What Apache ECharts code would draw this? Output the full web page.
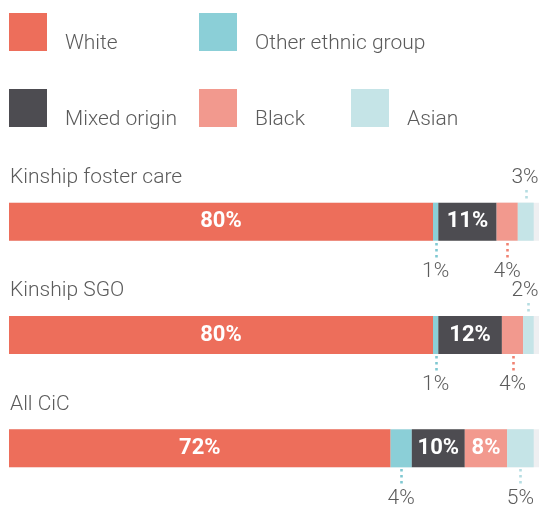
<!DOCTYPE html>
<html>
<head>
<meta charset="utf-8">
<script src="https://cdn.jsdelivr.net/npm/echarts@6/dist/echarts.min.js"></script>
<style>
html,body{margin:0;padding:0;background:#fff;}
#chart{width:541px;height:506px;}
</style>
</head>
<body>
<div id="chart"></div>
<script>
// ---- data ----
const categories = ['Kinship foster care', 'Kinship SGO', 'All CiC'];
const seriesNames = ['White', 'Other ethnic group', 'Mixed origin', 'Black', 'Asian'];
const white = [80, 80, 72];
const otherEthnic = [1, 1, 4];
const mixedOrigin = [11, 12, 10];
const black = [4, 4, 8];
const asian = [3, 2, 5];

// ---- style ----
const values = [white, otherEthnic, mixedOrigin, black, asian];
const colors = ['#ED6E5B', '#8BCFD7', '#4D4C51', '#F2998E', '#C5E4E7'];
const dotColors = ['#ED6E5B', '#7FC8D1', '#4D4C51', '#F08272', '#B5DDE2'];
const trackColor = '#EEEFF1';
const textColor = '#5B5B5B';
const FONT = 'Roboto, "Noto Sans", sans-serif';
const INSIDE_MIN = 8;      // segments at least this big carry their label inside
const BAR_W = 38;

const legendPos = [
  {left: 9, top: 8}, {left: 199, top: 8},
  {left: 9, top: 84}, {left: 199, top: 84}, {left: 351, top: 84}
];

const chart = echarts.init(document.getElementById('chart'), null, {renderer: 'canvas'});

const barSeries = seriesNames.map((name, s) => ({
  name: name,
  type: 'bar',
  stack: 'total',
  barWidth: BAR_W,
  data: values[s],
  itemStyle: {color: colors[s]},
  showBackground: s === 0,
  backgroundStyle: {color: trackColor},
  silent: true,
  label: {
    show: true,
    position: 'inside',
    color: '#fff',
    fontFamily: FONT,
    fontWeight: 'bold',
    fontSize: 22,
    formatter: p => (p.value >= INSIDE_MIN ? p.value + '%' : '')
  }
}));

const annotation = {
  type: 'custom',
  coordinateSystem: 'cartesian2d',
  clip: false,
  silent: true,
  z: 10,
  encode: {x: 0, y: 1},
  data: categories.map((c, i) => [0, i]),
  renderItem: function (params, api) {
    const i = api.value(1);
    const left = api.coord([0, i]);
    const right = api.coord([100, i]);
    const cy = left[1];
    const top = cy - BAR_W / 2;
    const bottom = cy + BAR_W / 2;
    const children = [];
    children.push({
      type: 'text',
      style: {
        text: categories[i], x: left[0] + 1, y: top - 25,
        fill: textColor, fontFamily: FONT, fontSize: 21, fontWeight: 300,
        align: 'left', verticalAlign: 'middle'
      }
    });
    let cum = 0;
    let lastBelow = -Infinity;
    for (let s = 0; s < values.length; s++) {
      const v = values[s][i];
      const x0 = api.coord([cum, i])[0];
      const x1 = api.coord([cum + v, i])[0];
      cum += v;
      if (v >= INSIDE_MIN) continue;
      const cx = (x0 + x1) / 2;
      const above = (cx - lastBelow) < 30;
      if (!above) lastBelow = cx;
      const lx = Math.round(cx) + 0.5;
      const tx = Math.min(cx, right[0] - 14);
      children.push({
        type: 'line',
        shape: above ? {x1: lx, y1: Math.round(top) - 13, x2: lx, y2: Math.round(top) - 1}
                     : {x1: lx, y1: Math.round(bottom) + 2, x2: lx, y2: Math.round(bottom) + 17},
        style: {stroke: dotColors[s], lineWidth: 2.6, lineDash: [2.6, 3.4]}
      });
      children.push({
        type: 'text',
        style: {
          text: v + '%', x: tx, y: above ? top - 25 : bottom + 31,
          fill: textColor, fontFamily: FONT, fontSize: 21, fontWeight: 300,
          align: 'center', verticalAlign: 'middle'
        }
      });
    }
    return {type: 'group', children: children};
  }
};

const option = {
  animation: false,
  legend: seriesNames.map((name, s) => ({
    data: [name],
    left: legendPos[s].left,
    top: legendPos[s].top,
    padding: 0,
    icon: 'rect',
    itemWidth: 38,
    itemHeight: 38,
    selectedMode: false,
    formatter: '\n{name}',
    textStyle: {
      color: textColor, fontFamily: FONT, fontSize: 21, fontWeight: 300,
      lineHeight: 24,
      padding: [0, 0, 0, 13]
    }
  })),
  grid: {left: 9, right: 2, top: 165, height: 340, containLabel: false},
  xAxis: {type: 'value', min: 0, max: 100, show: false},
  yAxis: {type: 'category', data: categories, inverse: true, show: false},
  series: barSeries.concat([annotation])
};

chart.setOption(option);
</script>
</body>
</html>
